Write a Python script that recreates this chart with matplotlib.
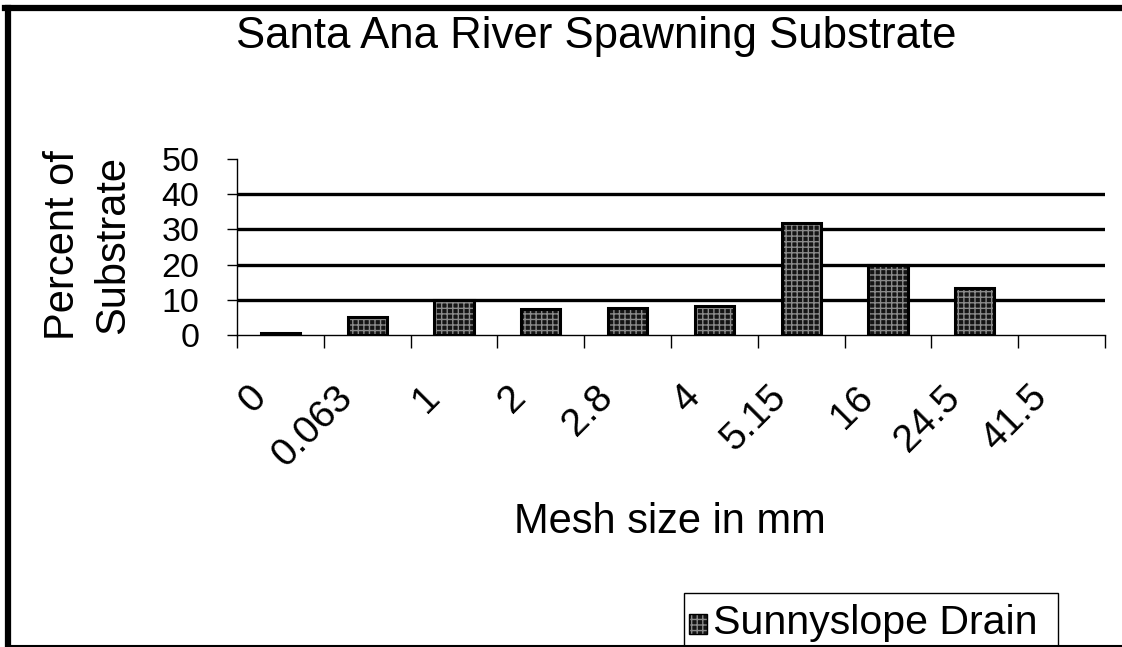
import matplotlib
matplotlib.use("Agg")
import matplotlib.pyplot as plt
import matplotlib.transforms as mtransforms
from matplotlib.lines import Line2D
from matplotlib.patches import Rectangle
import numpy as np

plt.rcParams["font.family"] = ["Liberation Sans", "DejaVu Sans"]

mesh_labels = ["0", "0.063", "1", "2", "2.8", "4", "5.15", "16", "24.5", "41.5"]
percent = [0.5, 5.0, 10.0, 7.4, 7.7, 8.2, 31.9, 19.8, 13.3, 0.0]
gridlines = [10, 20, 30, 40]
yticks = [0, 10, 20, 30, 40, 50]
series_name = "Sunnyslope Drain"

W, H = 1122, 647
fig = plt.figure(figsize=(W / 100, H / 100), dpi=100)
ax = fig.add_axes([237 / W, 1 - 335 / H, (1105 - 237) / W, (335 - 159) / H])

x = np.arange(len(mesh_labels))
ax.hlines(gridlines, -0.5, len(mesh_labels) - 0.5, colors="black", lw=2.4, zorder=1)
# hatched dark bars, then a solid outline on top (no outline for empty bins)
ax.bar(x, percent, width=0.45, color="#151515", edgecolor="#8a8a8a", hatch="+++", lw=0, zorder=2)
outline = ["black" if p > 0 else "none" for p in percent]
ax.bar(x, percent, width=0.45, fill=False, edgecolor=outline, lw=2.2, zorder=3)

ax.set_xlim(-0.5, len(mesh_labels) - 0.5)
ax.set_ylim(0, 50)
for s in ["top", "right"]:
    ax.spines[s].set_visible(False)
ax.spines["left"].set_linewidth(1)
ax.spines["bottom"].set_linewidth(1)

ax.set_yticks(yticks)
ax.tick_params(axis="y", length=7, width=1, pad=20, labelsize=24.5)

ax.set_xticks(np.arange(len(mesh_labels) + 1) - 0.5)
ax.set_xticklabels([])
ax.tick_params(axis="x", which="major", length=9, width=1)
ax.set_xticks(x, minor=True)
ax.set_xticklabels(mesh_labels, minor=True, rotation=45, ha="right", va="center",
                   rotation_mode="anchor", fontsize=28)
ax.tick_params(axis="x", which="minor", length=0, pad=41)
offset = mtransforms.ScaledTranslation(-0.2, 0, fig.dpi_scale_trans)
for lbl in ax.get_xticklabels(minor=True):
    lbl.set_transform(lbl.get_transform() + offset)

fig.text(596 / W, 1 - 48 / H, "Santa Ana River Spawning Substrate", fontsize=31.5,
         ha="center", va="baseline")
fig.text(88 / W, 1 - 245 / H, "Percent of\nSubstrate", fontsize=30, rotation=90,
         ha="center", va="center", linespacing=1.3)
fig.text(670 / W, 1 - 533 / H, "Mesh size in mm", fontsize=30, ha="center", va="baseline")

# legend drawn by hand: box runs off the bottom edge like the original
fig.add_artist(Rectangle((684 / W, -10 / H), (1058 - 684) / W, (10 + 647 - 593) / H,
                         transform=fig.transFigure, facecolor="white", edgecolor="black", lw=1))
fig.add_artist(Rectangle((689 / W, 1 - 634 / H), 18 / W, 20 / H, transform=fig.transFigure,
                         facecolor="#151515", edgecolor="#8a8a8a", hatch="+++", lw=0))
fig.add_artist(Rectangle((689 / W, 1 - 634 / H), 18 / W, 20 / H, transform=fig.transFigure,
                         fill=False, edgecolor="black", lw=1))
fig.text(713 / W, 1 - 634 / H, series_name, fontsize=29.6, ha="left", va="baseline")

# outer chart border
fig.add_artist(Line2D([8 / W, 8 / W], [0, 1 - 8 / H], color="black", lw=4.5))
fig.add_artist(Line2D([5 / W, 1], [1 - 8 / H, 1 - 8 / H], color="black", lw=4.5))
fig.add_artist(Line2D([8 / W, 1], [1 - 645.5 / H, 1 - 645.5 / H], color="black", lw=1.5))

fig.savefig("out.png", dpi=100)
